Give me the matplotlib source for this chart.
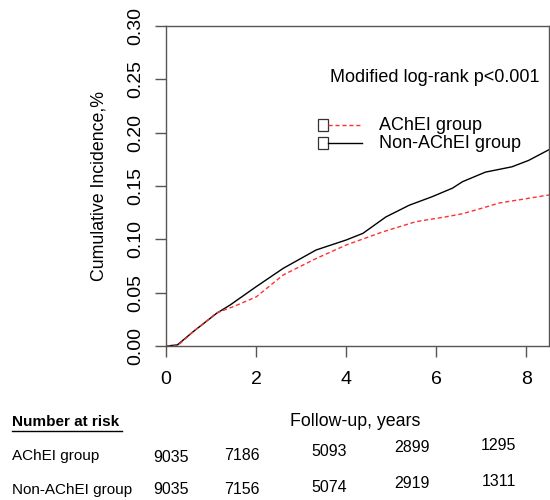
import numpy as np
import matplotlib.pyplot as plt
from matplotlib.patches import Rectangle

plt.rcParams['font.family'] = ['Liberation Sans', 'DejaVu Sans']

# cumulative incidence
t_achei = [0, 0.25, 0.6, 1.12, 1.5, 2.0, 2.6, 3.33, 4.0, 4.81, 5.55, 6.2, 6.58, 7.0, 7.39, 7.98, 8.5]
ci_achei = [0, 0, 0.0134, 0.031, 0.037, 0.046, 0.0666, 0.082, 0.0947, 0.107, 0.1166, 0.121, 0.124, 0.129, 0.134, 0.138, 0.1416]
t_non = [0, 0.25, 0.6, 1.12, 1.42, 2.0, 2.6, 3.33, 4.0, 4.37, 4.88, 5.4, 5.91, 6.36, 6.58, 7.09, 7.68, 8.05, 8.5]
ci_non = [0, 0.001, 0.0134, 0.0306, 0.0384, 0.0556, 0.0728, 0.09, 0.0994, 0.1056, 0.121, 0.132, 0.14, 0.148, 0.154, 0.163, 0.168, 0.174, 0.184]

risk_times = [0, 2, 4, 6, 8]
risk_achei = [9035, 7186, 5093, 2899, 1295]
risk_non = [9035, 7156, 5074, 2919, 1311]
# layout of the at-risk numbers (x in data units, y in pixels from top)
risk_xpos = [0.1, 1.68, 3.63, 5.46, 7.39]
row1_px = [457, 456, 452, 448, 446]
row2_px = [490, 490, 487, 483, 481]

fig = plt.figure(figsize=(5.5, 5), dpi=100)
ax = fig.add_axes([0.302, 0.308, 0.696, 0.64])

ax.plot(t_non, ci_non, color='black', lw=1.0)
ax.plot(t_achei, ci_achei, color='#ff3030', lw=1.0, ls=(0, (3, 2)))

ax.set_xlim(0, 8.5)
ax.set_ylim(0, 0.30)
ax.set_xticks(risk_times)
ax.set_yticks(np.arange(0, 0.31, 0.05))
ax.set_yticklabels(['%.2f' % v for v in np.arange(0, 0.31, 0.05)], rotation=90, va='center')
ax.tick_params(axis='both', length=8, width=1, color='#555555', labelsize=14)
ax.tick_params(axis='x', pad=10)
ax.tick_params(axis='y', pad=8)
for s in ax.spines.values():
    s.set_color('#555555')
    s.set_linewidth(1)
ax.set_ylabel('Cumulative Incidence,%', fontsize=12.8, labelpad=14)

ax.text(0.975, 0.84, 'Modified log-rank p<0.001', transform=ax.transAxes, ha='right', va='center', fontsize=13)
# legend, R style
for i, (lab, col, ls) in enumerate([('AChEI group', '#ff3030', (0, (3, 2))), ('Non-AChEI group', 'black', '-')]):
    yy = 0.69 - i * 0.056
    ax.add_patch(Rectangle((0.396, yy - 0.018), 0.027, 0.036, transform=ax.transAxes,
                           fill=False, ec='#333333', lw=0.9))
    ax.plot([0.423, 0.513], [yy, yy], transform=ax.transAxes, color=col, lw=1.0, ls=ls)
    ax.text(0.556, yy, lab, transform=ax.transAxes, ha='left', va='center', fontsize=13)

# number at risk table
fig.text(12 / 550, 1 - 422 / 500, 'Number at risk', fontsize=11, fontweight='bold', va='center', ha='left')
fig.add_artist(plt.Line2D([12 / 550, 122 / 550], [1 - 431 / 500, 1 - 431 / 500], color='black', lw=1))
fig.text(355 / 550, 1 - 422 / 500, 'Follow-up, years', fontsize=12.8, va='center', ha='center')
fig.text(12 / 550, 1 - 456 / 500, 'AChEI group', fontsize=11, va='center', ha='left')
fig.text(12 / 550, 1 - 490 / 500, 'Non-AChEI group', fontsize=11, va='center', ha='left')
for xp, a, n, y1, y2 in zip(risk_xpos, risk_achei, risk_non, row1_px, row2_px):
    ax.text(xp, -(y1 - 346) / 320, str(a), transform=ax.get_xaxis_transform(), ha='center', va='center',
            fontsize=11.5, clip_on=False)
    ax.text(xp, -(y2 - 346) / 320, str(n), transform=ax.get_xaxis_transform(), ha='center', va='center',
            fontsize=11.5, clip_on=False)

fig.savefig('out.png', dpi=100)
